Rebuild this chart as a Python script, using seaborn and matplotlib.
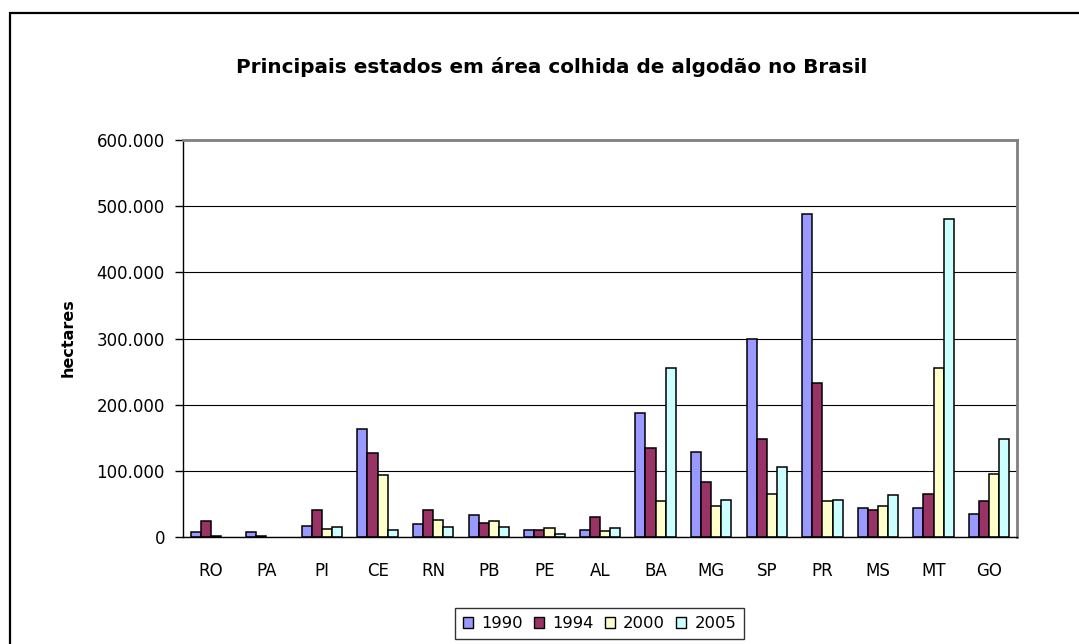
import numpy as np
import pandas as pd
import matplotlib
matplotlib.use("Agg")
import matplotlib.pyplot as plt
from matplotlib.patches import Rectangle, Patch
from matplotlib.ticker import FuncFormatter
import seaborn as sns

estados = ["RO", "PA", "PI", "CE", "RN", "PB", "PE", "AL", "BA", "MG", "SP", "PR", "MS", "MT", "GO"]
anos = ["1990", "1994", "2000", "2005"]
area_1990 = [8000, 8000, 17000, 163500, 19500, 34000, 10000, 10000, 187500, 128500, 299000, 488000, 43500, 43500, 34500]
area_1994 = [23500, 2000, 41000, 127000, 41000, 21500, 10000, 30000, 135000, 83000, 148000, 233500, 41000, 65000, 54500]
area_2000 = [2000, 0, 12500, 93500, 26000, 23500, 13000, 8500, 54500, 47500, 65000, 54500, 47500, 255500, 95500]
area_2005 = [0, 0, 15000, 10000, 15000, 15000, 4000, 13000, 255500, 56500, 106500, 56500, 63000, 481000, 148000]
yticks = [0, 100000, 200000, 300000, 400000, 500000, 600000]

series = [area_1990, area_1994, area_2000, area_2005]
rows = []
for ano, vals in zip(anos, series):
    for est, v in zip(estados, vals):
        rows.append({"estado": est, "ano": ano, "area": v})
df = pd.DataFrame(rows)

cores = ["#9999FF", "#993366", "#FFFFCC", "#CCFFFF"]

sns.set_style("white")
plt.rcParams["font.family"] = ["DejaVu Sans"]
plt.rcParams["text.color"] = "black"
plt.rcParams["xtick.color"] = "black"
plt.rcParams["ytick.color"] = "black"
plt.rcParams["axes.labelcolor"] = "black"

W, H = 1079, 644
fig = plt.figure(figsize=(W / 100, H / 100), dpi=100)
fig.patch.set_facecolor("white")
ax = fig.add_axes([183 / W, 1 - 537 / H, (1017 - 183) / W, (537 - 140) / H])

sns.barplot(data=df, x="estado", y="area", hue="ano", order=estados, hue_order=anos,
            palette=cores, saturation=1, width=0.73, edgecolor="black", linewidth=1.1, ax=ax)

for cont in ax.containers:
    for p in cont:
        if p.get_height() == 0:
            p.set_linewidth(0)

ax.set_ylim(0, 600000)
ax.set_xlim(-0.5, len(estados) - 0.5)
ax.set_yticks(yticks)
ax.yaxis.set_major_formatter(FuncFormatter(lambda v, p: f"{int(v):,}".replace(",", ".")))
ax.set_xlabel("")
ax.set_ylabel("")

ax.yaxis.grid(True, color="black", linewidth=0.8)
ax.xaxis.grid(False)
ax.set_axisbelow(True)

for s in ["left", "bottom"]:
    ax.spines[s].set_color("black")
    ax.spines[s].set_linewidth(1.0)
for s in ["top", "right"]:
    ax.spines[s].set_color("#808080")
    ax.spines[s].set_linewidth(2.0)

ax.set_xticks(range(len(estados)))
ax.set_xticklabels(estados)
ax.set_xticks(np.arange(-0.5, len(estados), 1), minor=True)
ax.tick_params(axis="x", which="major", length=0, pad=18, labelsize=12.0, labelcolor="black")
ax.tick_params(axis="x", which="minor", length=6, width=1, direction="out", color="black")
ax.tick_params(axis="y", which="major", length=6, width=1, direction="out", pad=7, labelsize=12.0,
               color="black", labelcolor="black", left=True)

leg = ax.get_legend()
if leg is not None:
    leg.remove()
handles = [Patch(facecolor=c, edgecolor="black", linewidth=1.0) for c in cores]
lg = fig.legend(handles, anos, loc="upper center", bbox_to_anchor=(599.5 / W, 1 - 608 / H),
                ncol=4, frameon=True, fancybox=False, edgecolor="black", fontsize=11.8,
                handlelength=0.6, handleheight=0.6, handletextpad=0.5, columnspacing=0.7,
                borderpad=0.5, borderaxespad=0, labelcolor="black")
lg.get_frame().set_linewidth(1.0)

fig.text(552 / W, 1 - 67 / H, "Principais estados em área colhida de algodão no Brasil",
         ha="center", va="center", fontsize=14.4, fontweight="bold", color="black")
fig.text(68 / W, 1 - 338 / H, "hectares", ha="center", va="center", rotation=90,
         fontsize=11.5, fontweight="bold", color="black")

fig.patches.append(Rectangle((10 / W, -0.5), 2, 0.5 + (1 - 13 / H), fill=False,
                             edgecolor="black", linewidth=1.6, transform=fig.transFigure))

fig.savefig("out.png", dpi=100, facecolor="white")
